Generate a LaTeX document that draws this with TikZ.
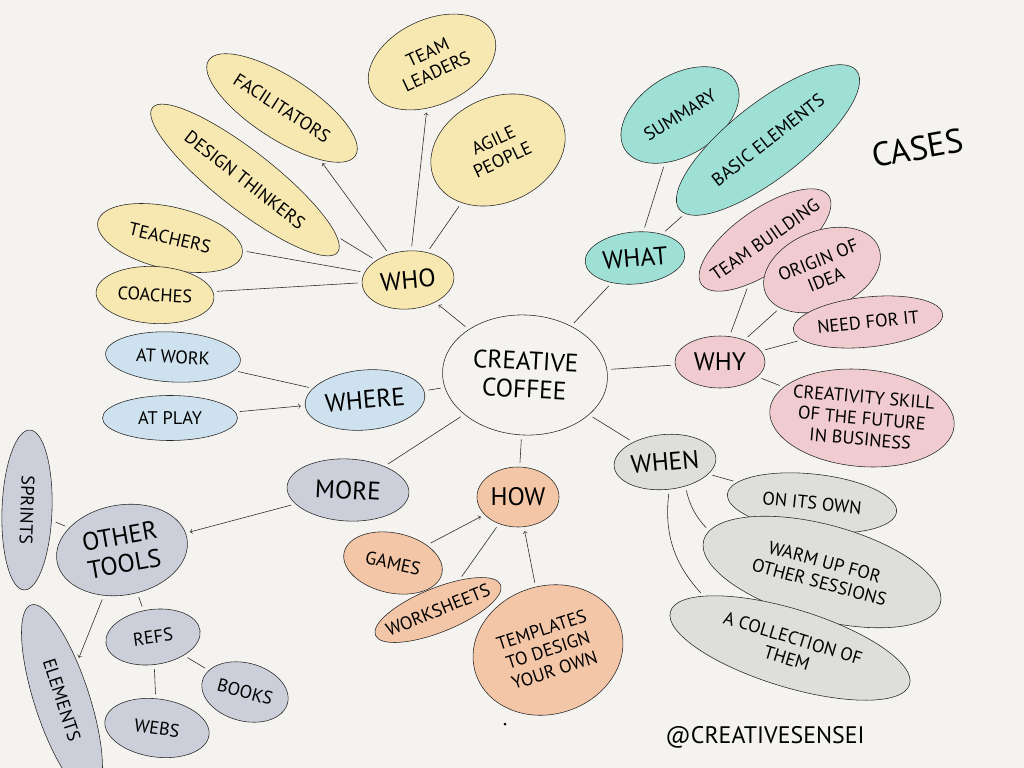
\documentclass[tikz,border=0pt]{standalone}
\usepackage{fontspec}
\setmainfont{PT Sans}
\usetikzlibrary{shapes.geometric}
\definecolor{paper}{RGB}{244,243,239}
\definecolor{yel}{RGB}{247,231,176}
\definecolor{wteal}{RGB}{158,224,214}
\definecolor{pnk}{RGB}{240,204,208}
\definecolor{gry}{RGB}{222,222,219}
\definecolor{orng}{RGB}{244,198,168}
\definecolor{blu}{RGB}{206,225,238}
\definecolor{slat}{RGB}{204,207,218}
\begin{document}
\begin{tikzpicture}[x=0.025cm,y=-0.025cm,
    bubble/.style={ellipse, draw=black!85, thin, inner sep=0pt},
    link/.style={draw=black!85, thin, shorten <=3pt, shorten >=3pt},
    leaf/.style={font=\fontsize{13}{15}\selectfont, align=center},
    hub/.style={font=\fontsize{18}{20}\selectfont, align=center}]
\fill[paper] (0,0) rectangle (1024,768);
\useasboundingbox (0,0) rectangle (1024,768);
\clip (0,0) rectangle (1024,768);

% middle and the seven questions
\foreach \nm/\px/\py/\ew/\eh/\ang/\col/\txt in {
  ctr/525/375/165/120/-3/paper/{CREATIVE\\COFFEE},
  who/408/280/92/58/5/yel/WHO,
  what/635/258/100/52/5/wteal/WHAT,
  why/720/362/90/52/0/pnk/WHY,
  when/665/462/102/55/5/gry/WHEN,
  how/518/497/82/60/0/orng/HOW,
  where/365/400/120/60/5/blu/WHERE,
  more/348/490/122/62/-3/slat/MORE,
  tools/122/550/132/90/10/slat/{OTHER\\TOOLS}}
{
  \node[bubble, fill=\col, rotate=\ang, minimum width=\ew*0.025cm, minimum height=\eh*0.025cm] (\nm) at (\px,\py) {};
  \node[hub, rotate=\ang] (\nm-t) at (\nm) {\txt};
}

% answers
\foreach \nm/\px/\py/\ew/\eh/\ang/\col/\txt in {
  fac/282/108/175/62/-33/yel/FACILITATORS,
  des/245/180/235/58/-38/yel/DESIGN THINKERS,
  lead/432/62/135/85/25/yel/{TEAM\\LEADERS},
  agile/498/150/140/105/25/yel/{AGILE\\PEOPLE},
  teach/170/238/148/62/-13/yel/TEACHERS,
  coach/155/295/118/57/-3/yel/COACHES,
  summ/680/115/130/80/32/wteal/SUMMARY,
  basic/768/140/225/75/38/wteal/BASIC ELEMENTS,
  team/765/240/155/62/35/pnk/TEAM BUILDING,
  orig/822/270/122/78/22/pnk/{ORIGIN OF\\IDEA},
  need/868/322/150/50/6/pnk/NEED FOR IT,
  crea/862/418/185/97/-5/pnk/{CREATIVITY SKILL\\OF THE FUTURE\\IN BUSINESS},
  own/812/503/170/58/-6/gry/ON ITS OWN,
  warm/822/572/245/95/-15/gry/{WARM UP FOR\\OTHER SESSIONS},
  coll/790/648/250/78/-17/gry/{A COLLECTION OF\\THEM},
  games/393/563/100/60/-12/orng/GAMES,
  works/438/610/135/44/22/orng/WORKSHEETS,
  templ/548/650/152/128/18/orng/{TEMPLATES\\TO DESIGN\\YOUR OWN},
  work/173/357/135/50/-3/blu/AT WORK,
  play/170/418/135/45/0/blu/AT PLAY,
  sprint/27/510/160/50/-92/slat/SPRINTS,
  refs/153/637/95/55/8/slat/REFS,
  books/245/692/88/58/-15/slat/BOOKS,
  webs/157/728/105/58/-8/slat/WEBS,
  elem/62/700/200/55/-72/slat/ELEMENTS}
{
  \node[bubble, fill=\col, rotate=\ang, minimum width=\ew*0.025cm, minimum height=\eh*0.025cm] (\nm) at (\px,\py) {};
  \node[leaf, rotate=\ang] (\nm-t) at (\nm) {\txt};
}

\draw[link,->] (ctr) -- (who);
\draw[link,->] (who) -- (fac);
\draw[link,->] (who) -- (lead);
\draw[link] (who) -- (agile);
\draw[link] (who) -- (des);
\draw[link] (who) -- (teach);
\draw[link] (who) -- (coach);
\draw[link] (ctr) -- (what);
\draw[link] (what) -- (summ);
\draw[link] (what) -- (basic);
\draw[link] (ctr) -- (why);
\draw[link] (why) -- (team);
\draw[link] (why) -- (orig);
\draw[link] (why) -- (need);
\draw[link] (why) -- (crea);
\draw[link] (ctr) -- (when);
\draw[link] (when) -- (own);
\draw[link] (when) to[bend right=15] (warm);
\draw[link] (when) to[bend right=25] (coll);
\draw[link] (ctr) -- (how);
\draw[link,->] (games) -- (how);
\draw[link] (how) -- (works);
\draw[link,->] (templ) -- (how);
\draw[link] (ctr) -- (where);
\draw[link] (where) -- (work);
\draw[link,->] (play) -- (where);
\draw[link] (ctr) -- (more);
\draw[link,->] (more) -- (tools);
\draw[link] (tools) -- (sprint);
\draw[link,->] (tools) -- (elem);
\draw[link] (tools) -- (refs);
\draw[link] (refs) -- (books);
\draw[link] (refs) -- (webs);

\node[font=\fontsize{24}{26}\selectfont, rotate=10] (cases) at (918,148) {CASES};
\node[font=\fontsize{17}{19}\selectfont] (sign) at (765,737) {@CREATIVESENSEI};
\fill (505,724) circle (1.5);
\end{tikzpicture}
\end{document}
